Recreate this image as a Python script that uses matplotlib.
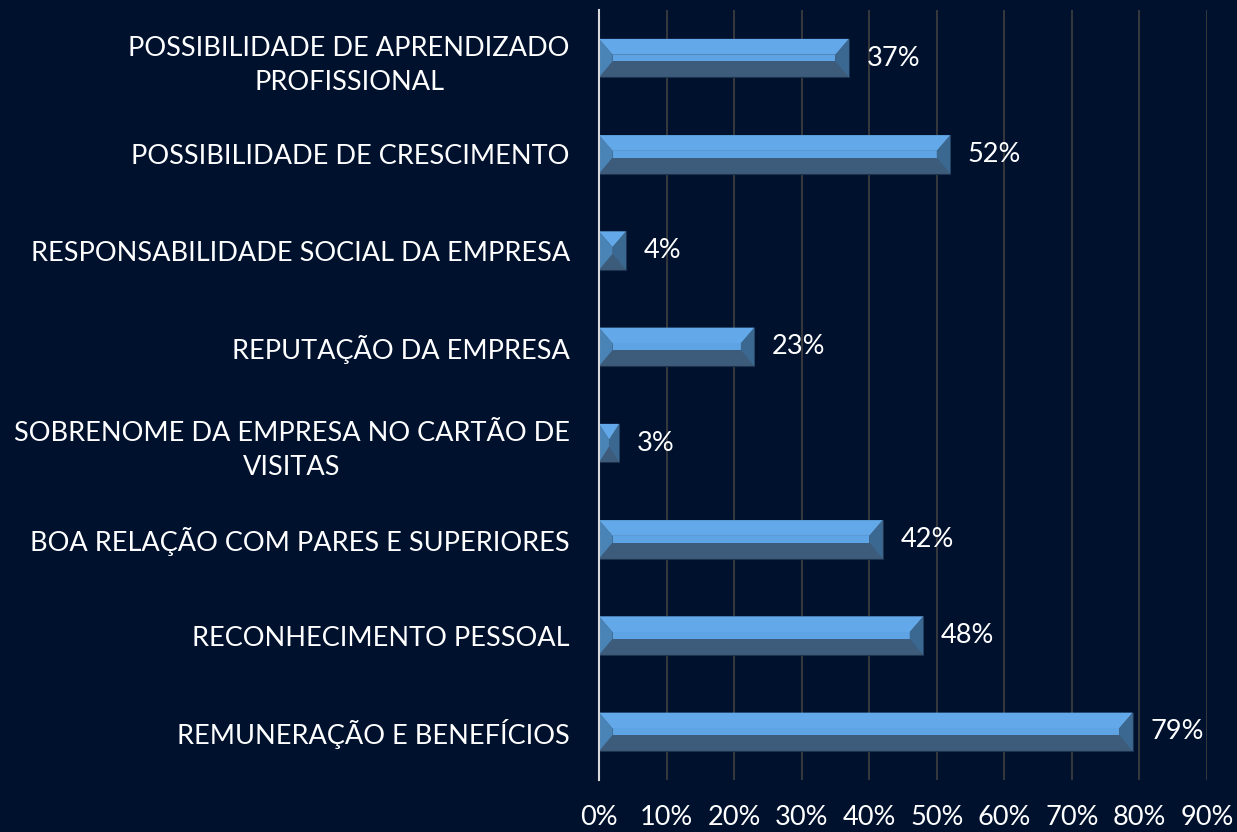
import matplotlib
matplotlib.use("Agg")
from matplotlib import pyplot as plt

categories = [
    "POSSIBILIDADE DE APRENDIZADO\nPROFISSIONAL",
    "POSSIBILIDADE DE CRESCIMENTO",
    "RESPONSABILIDADE SOCIAL DA EMPRESA",
    "REPUTAÇÃO DA EMPRESA",
    "SOBRENOME DA EMPRESA NO CARTÃO DE\nVISITAS",
    "BOA RELAÇÃO COM PARES E SUPERIORES",
    "RECONHECIMENTO PESSOAL",
    "REMUNERAÇÃO E BENEFÍCIOS",
]
values = [37, 52, 4, 23, 3, 42, 48, 79]
xticks = list(range(0, 100, 10))

bg = "#00112e"
plt.rcParams["font.family"] = ["Lato", "DejaVu Sans"]

fig = plt.figure(figsize=(12.37, 8.32), dpi=100, facecolor=bg)
ax = fig.add_axes([599 / 1237, 1 - 780 / 832, 608 / 1237, 770 / 832])
ax.set_facecolor(bg)

h = 0.4
pos = list(range(len(values)))
# base (dark lower face)
ax.barh(pos, values, height=h, color="#3d5b7a", edgecolor="#1c3350", linewidth=0.8, zorder=3)

for y, v in zip(pos, values):
    top = y - h / 2
    bot = y + h / 2
    d = min(2.0, v / 2)
    it = top + 0.163
    ib = it + 0.07
    # top bevel
    ax.fill([0, v, v - d, d], [top, top, it, it], color="#63a9e9", zorder=4, lw=0)
    # front face
    ax.fill([d, v - d, v - d, d], [it, it, ib, ib], color="#5ea3e3", zorder=4, lw=0)
    # left bevel
    ax.fill([0, d, d, 0], [top, it, ib, bot], color="#4a83b5", zorder=5, lw=0)
    # right bevel
    ax.fill([v, v - d, v - d, v], [top, it, ib, bot], color="#3b6891", zorder=5, lw=0)
    ax.text(v + 2.6, y, f"{v}%", color="white", fontsize=19.5, va="center", ha="left", zorder=6)

ax.set_ylim(len(values) - 0.5, -0.5)
ax.set_xlim(0, 90)
ax.set_yticks(pos)
ax.set_yticklabels(categories, multialignment="center", linespacing=1.45)
ax.set_xticks(xticks)
ax.set_xticklabels([f"{t}%" for t in xticks])
ax.tick_params(axis="y", length=0, pad=21, labelsize=19.5, labelcolor="white")
ax.tick_params(axis="x", length=0, pad=18, labelsize=19.5, labelcolor="white")
ax.grid(axis="x", color="#3f3f3f", linewidth=1.2, zorder=0)
for s in ["top", "right", "bottom"]:
    ax.spines[s].set_visible(False)
ax.spines["left"].set_color("#d9d9d9")
ax.spines["left"].set_linewidth(1.5)
ax.spines["left"].set_zorder(6)

fig.savefig("out.png", dpi=100, facecolor=bg)
